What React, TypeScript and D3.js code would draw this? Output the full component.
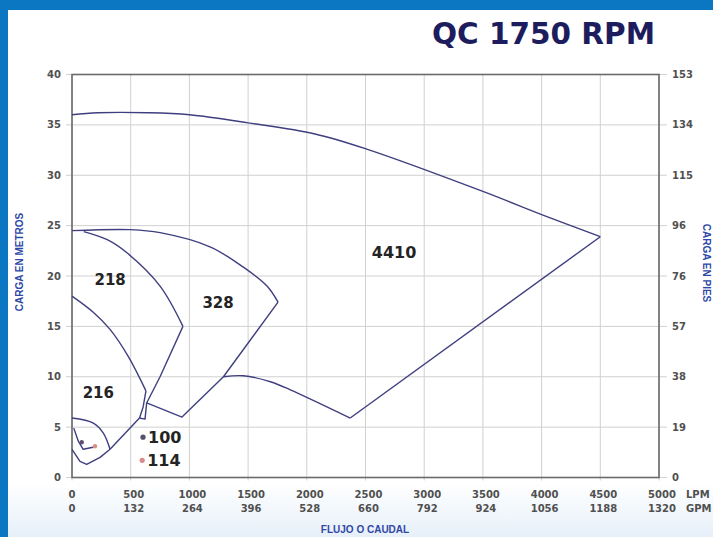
import React from 'react';
import * as d3 from 'd3';

type Pt = [number, number];

// axes
const lpmTicks = [0, 500, 1000, 1500, 2000, 2500, 3000, 3500, 4000, 4500, 5000];
const gpmLabels = ['0', '132', '264', '396', '528', '660', '792', '924', '1056', '1188', '1320'];
const metroTicks = [0, 5, 10, 15, 20, 25, 30, 35, 40];
const pieLabels = ['0', '19', '38', '57', '76', '96', '115', '134', '153'];

// curves, [LPM, metros]
const top4410: Pt[] = [[0, 36.0], [220, 36.2], [650, 36.2], [1000, 36.0], [1500, 35.2], [2070, 34.1], [2510, 32.6], [3500, 28.4], [4000, 26.1], [4500, 23.9]];
const edge4410: Pt[] = [[4500, 23.9], [2370, 5.9]];
const bottom4410: Pt[] = [[2370, 5.9], [1860, 8.7], [1690, 9.5], [1460, 10.1], [1290, 10.0]];
const top328: Pt[] = [[0, 24.5], [500, 24.6], [750, 24.3], [1175, 22.9], [1457, 20.9], [1661, 19.0], [1755, 17.4]];
const edge328: Pt[] = [[1755, 17.4], [1290, 10.0], [937, 6.0], [636, 7.4]];
const top218: Pt[] = [[100, 24.4], [300, 23.6], [468, 22.3], [750, 19.0], [945, 15.0]];
const edge218: Pt[] = [[945, 15.0], [750, 10.0], [636, 7.4], [622, 5.8], [575, 5.9]];
const top216: Pt[] = [[0, 18.0], [181, 16.4], [324, 14.7], [480, 12.0], [630, 8.6]];
const edge216: Pt[] = [[630, 8.6], [606, 7.0], [575, 5.9], [324, 2.8]];
const arc100: Pt[] = [[0, 5.9], [182, 5.4], [267, 4.4], [324, 2.8]];
const base100: Pt[] = [[324, 2.8], [239, 2.0], [125, 1.3], [68, 1.6], [0, 2.8]];
const inner114: Pt[] = [[15, 4.9], [54, 3.6], [95, 2.8], [180, 3.0]];

const regionLabels = [
  { name: '4410', at: [2743, 22.4] as Pt, size: 16 },
  { name: '328', at: [1244, 17.4] as Pt, size: 15 },
  { name: '218', at: [325, 19.6] as Pt, size: 15 },
  { name: '216', at: [224, 8.4] as Pt, size: 15 },
];
const models = [
  { name: '100', at: [605, 4.0] as Pt, color: '#5a4f6e' },
  { name: '114', at: [598, 1.7] as Pt, color: '#d98a8a' },
];
const markers = [
  { at: [83, 3.5] as Pt, color: '#5a4f6e' },
  { at: [196, 3.1] as Pt, color: '#d98a8a' },
];

export default function App() {
  const W = 713, H = 537;
  const x = d3.scaleLinear().domain([0, 5000]).range([72, 659]);
  const y = d3.scaleLinear().domain([0, 40]).range([477.5, 74.5]);
  const smooth = d3.line<Pt>().x(d => x(d[0])).y(d => y(d[1])).curve(d3.curveCatmullRom.alpha(0.5));
  const straight = d3.line<Pt>().x(d => x(d[0])).y(d => y(d[1]));

  const stroke = '#3f3f80';
  const tickFont = { fontFamily: 'DejaVu Sans, sans-serif', fontWeight: 'bold' as const, fontSize: 10, fill: '#505050' };
  const titleBlue = '#3047a6';

  const smoothPaths = [top4410, bottom4410, top328, top218, top216, arc100];
  const straightPaths = [edge4410, edge328, edge218, edge216, base100, inner114];

  return (
    <svg width={W} height={H} style={{ position: 'absolute', left: 0, top: 0 }}>
      <defs>
        <linearGradient id="bg" x1="0" y1="0" x2="0" y2="1">
          <stop offset="0.9" stopColor="#ffffff" />
          <stop offset="1" stopColor="#e6f0f9" />
        </linearGradient>
      </defs>
      <rect width={W} height={H} fill="url(#bg)" />
      <rect x={0} y={0} width={W} height={10} fill="#0b76c1" />
      <rect x={0} y={0} width={8} height={H} fill="#0b76c1" />

      <text x={655} y={44} textAnchor="end" fontFamily="DejaVu Sans, sans-serif" fontWeight="bold" fontSize={29.5} fill="#1d1d5e">QC 1750 RPM</text>

      {/* grid */}
      {lpmTicks.map(t => (
        <line key={'gx' + t} x1={x(t)} x2={x(t)} y1={y(40)} y2={y(0) + 3} stroke="#d0d0d0" strokeWidth={1} />
      ))}
      {metroTicks.map(t => (
        <line key={'gy' + t} x1={x(0) - 6} x2={x(5000) + 8} y1={y(t)} y2={y(t)} stroke="#d0d0d0" strokeWidth={1} />
      ))}
      <rect x={x(0)} y={y(40)} width={x(5000) - x(0)} height={y(0) - y(40)} fill="none" stroke="#6a6a6a" strokeWidth={1.6} />

      {/* tick labels */}
      {metroTicks.map(t => (
        <text key={'ly' + t} x={61} y={y(t) + 3.5} textAnchor="end" {...tickFont}>{t}</text>
      ))}
      {metroTicks.map((t, i) => (
        <text key={'ry' + t} x={672} y={y(t) + 3.5} textAnchor="start" {...tickFont}>{pieLabels[i]}</text>
      ))}
      {lpmTicks.map((t, i) => (
        <g key={'lx' + t}>
          <text x={x(t) + (i === 0 ? 0 : 3)} y={498} textAnchor="middle" {...tickFont}>{t}</text>
          <text x={x(t) + (i === 0 ? 0 : 3)} y={512} textAnchor="middle" {...tickFont}>{gpmLabels[i]}</text>
        </g>
      ))}
      <text x={686} y={498} {...tickFont}>LPM</text>
      <text x={686} y={512} {...tickFont}>GPM</text>

      {/* axis titles */}
      <text transform="translate(23,262) rotate(-90)" textAnchor="middle" fontFamily="Liberation Sans, Arial, sans-serif" fontWeight="bold" fontSize={10} fill={titleBlue}>CARGA EN METROS</text>
      <text transform="translate(703,263) rotate(90)" textAnchor="middle" fontFamily="Liberation Sans, Arial, sans-serif" fontWeight="bold" fontSize={10} fill={titleBlue}>CARGA EN PIES</text>
      <text x={365} y={533} textAnchor="middle" fontFamily="Liberation Sans, Arial, sans-serif" fontWeight="bold" fontSize={10} fill={titleBlue}>FLUJO O CAUDAL</text>

      {/* curves */}
      {smoothPaths.map((p, i) => (
        <path key={'s' + i} d={smooth(p) ?? ''} fill="none" stroke={stroke} strokeWidth={1.4} />
      ))}
      {straightPaths.map((p, i) => (
        <path key={'l' + i} d={straight(p) ?? ''} fill="none" stroke={stroke} strokeWidth={1.4} strokeLinejoin="round" />
      ))}
      {markers.map((m, i) => (
        <circle key={'m' + i} cx={x(m.at[0])} cy={y(m.at[1])} r={2.2} fill={m.color} />
      ))}

      {/* labels */}
      {regionLabels.map(r => (
        <text key={r.name} x={x(r.at[0])} y={y(r.at[1]) + r.size * 0.36} textAnchor="middle" fontFamily="DejaVu Sans, sans-serif" fontWeight="bold" fontSize={r.size} fill="#242424">{r.name}</text>
      ))}
      {models.map(m => (
        <g key={m.name}>
          <circle cx={x(m.at[0])} cy={y(m.at[1])} r={2.6} fill={m.color} />
          <text x={x(m.at[0]) + 5} y={y(m.at[1]) + 6} fontFamily="DejaVu Sans, sans-serif" fontWeight="bold" fontSize={16} fill="#242424">{m.name}</text>
        </g>
      ))}
    </svg>
  );
}
